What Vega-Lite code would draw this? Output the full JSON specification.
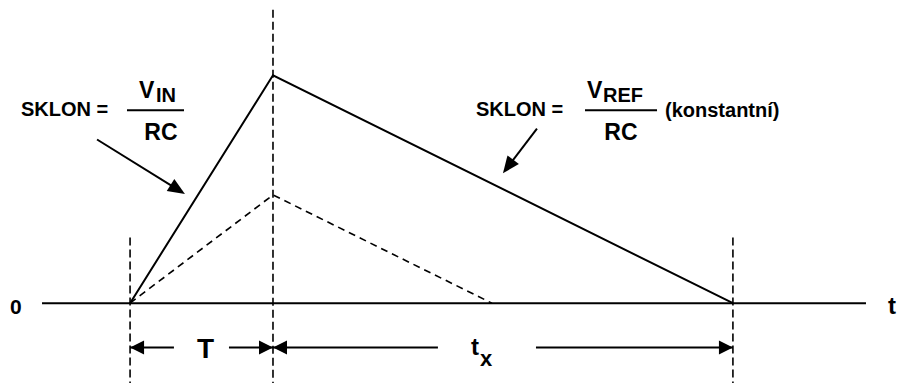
{
  "$schema": "https://vega.github.io/schema/vega-lite/v6.json",
  "width": 899,
  "height": 387,
  "autosize": {"type": "fit", "contains": "padding"},
  "padding": 0,
  "background": "white",
  "config": {"view": {"stroke": null}},
  "datasets": {
    "solid": [
      {"s": "base", "o": 0, "x": -0.616, "y": 0},
      {"s": "base", "o": 1, "x": 5.149, "y": 0},
      {"s": "tri", "o": 0, "x": 0, "y": 0},
      {"s": "tri", "o": 1, "x": 1, "y": 1},
      {"s": "tri", "o": 2, "x": 4.218, "y": 0},
      {"s": "f1", "o": 0, "x": -0.0215, "y": 0.846},
      {"s": "f1", "o": 1, "x": 0.3774, "y": 0.846},
      {"s": "f2", "o": 0, "x": 3.183, "y": 0.846},
      {"s": "f2", "o": 1, "x": 3.687, "y": 0.846},
      {"s": "d1", "o": 0, "x": 0, "y": -0.194},
      {"s": "d1", "o": 1, "x": 0.307, "y": -0.194},
      {"s": "d2", "o": 0, "x": 0.692, "y": -0.194},
      {"s": "d2", "o": 1, "x": 1, "y": -0.194},
      {"s": "d3", "o": 0, "x": 1, "y": -0.194},
      {"s": "d3", "o": 1, "x": 2.154, "y": -0.194},
      {"s": "d4", "o": 0, "x": 2.84, "y": -0.194},
      {"s": "d4", "o": 1, "x": 4.218, "y": -0.194},
      {"s": "a1", "o": 0, "x": -0.231, "y": 0.718},
      {"s": "a1", "o": 1, "x": 0.337, "y": 0.497},
      {"s": "a2", "o": 0, "x": 2.847, "y": 0.766},
      {"s": "a2", "o": 1, "x": 2.643, "y": 0.598}
    ],
    "dashtri": [
      {"o": 0, "x": 0, "y": 0},
      {"o": 1, "x": 1, "y": 0.475},
      {"o": 2, "x": 2.532, "y": 0}
    ],
    "vert": [
      {"s": "v1", "o": 0, "x": 0, "y": 0.288},
      {"s": "v1", "o": 1, "x": 0, "y": -0.35},
      {"s": "v2", "o": 0, "x": 1, "y": 1.287},
      {"s": "v2", "o": 1, "x": 1, "y": -0.35},
      {"s": "v3", "o": 0, "x": 4.218, "y": 0.288},
      {"s": "v3", "o": 1, "x": 4.218, "y": -0.35}
    ],
    "heads": [
      {"x": 0, "y": -0.194, "dir": "left"},
      {"x": 1, "y": -0.194, "dir": "right"},
      {"x": 1, "y": -0.194, "dir": "left"},
      {"x": 4.218, "y": -0.194, "dir": "right"}
    ],
    "slopeheads": [
      {"x": 0.384, "y": 0.479, "k": "a1"},
      {"x": 2.609, "y": 0.57, "k": "a2"}
    ],
    "texts": [
      {"g": "a", "label": "SKLON =", "x": -0.763, "y": 0.822},
      {"g": "a", "label": "SKLON =", "x": 2.42, "y": 0.822},
      {"g": "b", "label": "V", "x": 0.0625, "y": 0.9},
      {"g": "b", "label": "V", "x": 3.197, "y": 0.9},
      {"g": "z", "label": "0", "x": -0.84, "y": -0.046},
      {"g": "c", "label": "IN", "x": 0.181, "y": 0.883},
      {"g": "c", "label": "REF", "x": 3.309, "y": 0.883},
      {"g": "d", "label": "RC", "x": 0.1, "y": 0.718},
      {"g": "d", "label": "RC", "x": 3.318, "y": 0.718},
      {"g": "x", "label": "x", "x": 2.448, "y": -0.276},
      {"g": "e", "label": "(konstantní)", "x": 3.743, "y": 0.818},
      {"g": "f", "label": "t", "x": 5.303, "y": -0.046},
      {"g": "f", "label": "t", "x": 2.385, "y": -0.228},
      {"g": "h", "label": "T", "x": 0.468, "y": -0.241}
    ]
  },
  "encoding": {
    "x": {"field": "x", "type": "quantitative", "scale": {"domain": [-0.91, 5.38], "nice": false, "zero": false}, "axis": null},
    "y": {"field": "y", "type": "quantitative", "scale": {"domain": [-0.35, 1.33], "nice": false, "zero": false}, "axis": null}
  },
  "layer": [
    {
      "data": {"name": "vert"},
      "mark": {"type": "line", "color": "black", "strokeWidth": 1.6, "strokeDash": [8, 4], "strokeCap": "butt"},
      "encoding": {"detail": {"field": "s"}, "order": {"field": "o"}}
    },
    {
      "data": {"name": "dashtri"},
      "mark": {"type": "line", "color": "black", "strokeWidth": 1.6, "strokeDash": [7, 5], "strokeCap": "butt"},
      "encoding": {"order": {"field": "o"}}
    },
    {
      "data": {"name": "solid"},
      "mark": {"type": "line", "color": "black", "strokeWidth": 2, "strokeCap": "butt"},
      "encoding": {"detail": {"field": "s"}, "order": {"field": "o"}}
    },
    {
      "data": {"name": "heads"},
      "mark": {"type": "point", "filled": true, "color": "black", "opacity": 1, "strokeWidth": 0, "size": 784},
      "encoding": {
        "shape": {"field": "dir", "type": "nominal", "scale": {"domain": ["left", "right"], "range": ["M0,0L1,-0.5L1,0.5Z", "M0,0L-1,-0.5L-1,0.5Z"]}, "legend": null}
      }
    },
    {
      "data": {"name": "slopeheads"},
      "transform": [{"filter": "datum.k === 'a1'"}],
      "mark": {"type": "point", "filled": true, "color": "black", "opacity": 1, "strokeWidth": 0, "size": 1156, "shape": "M0,0L-1,-0.42L-1,0.42Z", "angle": 32}
    },
    {
      "data": {"name": "slopeheads"},
      "transform": [{"filter": "datum.k === 'a2'"}],
      "mark": {"type": "point", "filled": true, "color": "black", "opacity": 1, "strokeWidth": 0, "size": 1156, "shape": "M0,0L-1,-0.42L-1,0.42Z", "angle": 127}
    },
    {
      "data": {"name": "texts"},
      "transform": [{"filter": "datum.g === 'a'"}],
      "mark": {"type": "text", "font": "Liberation Sans", "fontWeight": "bold", "fontSize": 20, "align": "left", "baseline": "alphabetic", "color": "black"},
      "encoding": {"text": {"field": "label"}}
    },
    {
      "data": {"name": "texts"},
      "transform": [{"filter": "datum.g === 'b'"}],
      "mark": {"type": "text", "font": "Liberation Sans", "fontWeight": "bold", "fontSize": 23, "align": "left", "baseline": "alphabetic", "color": "black"},
      "encoding": {"text": {"field": "label"}}
    },
    {
      "data": {"name": "texts"},
      "transform": [{"filter": "datum.g === 'z'"}],
      "mark": {"type": "text", "font": "Liberation Sans", "fontWeight": "bold", "fontSize": 21, "align": "left", "baseline": "alphabetic", "color": "black"},
      "encoding": {"text": {"field": "label"}}
    },
    {
      "data": {"name": "texts"},
      "transform": [{"filter": "datum.g === 'c'"}],
      "mark": {"type": "text", "font": "Liberation Sans", "fontWeight": "bold", "fontSize": 20, "align": "left", "baseline": "alphabetic", "color": "black"},
      "encoding": {"text": {"field": "label"}}
    },
    {
      "data": {"name": "texts"},
      "transform": [{"filter": "datum.g === 'd'"}],
      "mark": {"type": "text", "font": "Liberation Sans", "fontWeight": "bold", "fontSize": 23, "align": "left", "baseline": "alphabetic", "color": "black"},
      "encoding": {"text": {"field": "label"}}
    },
    {
      "data": {"name": "texts"},
      "transform": [{"filter": "datum.g === 'x'"}],
      "mark": {"type": "text", "font": "Liberation Sans", "fontWeight": "bold", "fontSize": 22, "align": "left", "baseline": "alphabetic", "color": "black"},
      "encoding": {"text": {"field": "label"}}
    },
    {
      "data": {"name": "texts"},
      "transform": [{"filter": "datum.g === 'e'"}],
      "mark": {"type": "text", "font": "Liberation Sans", "fontWeight": "bold", "fontSize": 20, "align": "left", "baseline": "alphabetic", "color": "black"},
      "encoding": {"text": {"field": "label"}}
    },
    {
      "data": {"name": "texts"},
      "transform": [{"filter": "datum.g === 'f'"}],
      "mark": {"type": "text", "font": "Liberation Sans", "fontWeight": "bold", "fontSize": 24, "align": "left", "baseline": "alphabetic", "color": "black"},
      "encoding": {"text": {"field": "label"}}
    },
    {
      "data": {"name": "texts"},
      "transform": [{"filter": "datum.g === 'h'"}],
      "mark": {"type": "text", "font": "Liberation Sans", "fontWeight": "bold", "fontSize": 28, "align": "left", "baseline": "alphabetic", "color": "black"},
      "encoding": {"text": {"field": "label"}}
    }
  ]
}
